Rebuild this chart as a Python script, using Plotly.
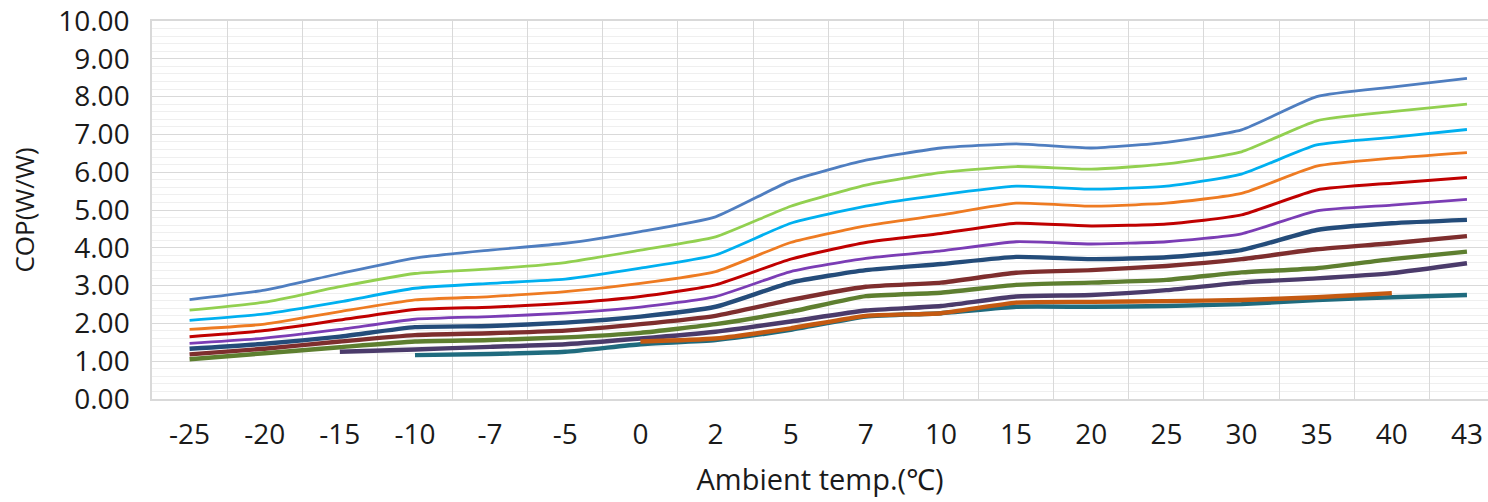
import plotly.graph_objects as go

categories = ["-25", "-20", "-15", "-10", "-7", "-5", "0", "2", "5", "7",
              "10", "15", "20", "25", "30", "35", "40", "43"]

s1 = [2.63, 2.88, 3.32, 3.73, 3.94, 4.12, 4.43, 4.82, 5.77, 6.32, 6.64, 6.75, 6.64, 6.79, 7.12, 8.00, 8.25, 8.48]
s2 = [2.35, 2.56, 2.97, 3.32, 3.44, 3.61, 3.94, 4.29, 5.10, 5.66, 5.99, 6.15, 6.08, 6.22, 6.54, 7.36, 7.60, 7.80]
s3 = [2.08, 2.25, 2.57, 2.93, 3.06, 3.17, 3.46, 3.81, 4.65, 5.10, 5.40, 5.63, 5.55, 5.63, 5.95, 6.72, 6.92, 7.13]
s4 = [1.84, 1.98, 2.31, 2.62, 2.71, 2.84, 3.06, 3.37, 4.14, 4.58, 4.87, 5.18, 5.10, 5.18, 5.44, 6.16, 6.37, 6.52]
s5 = [1.65, 1.81, 2.09, 2.37, 2.43, 2.53, 2.71, 3.02, 3.70, 4.14, 4.38, 4.65, 4.58, 4.63, 4.87, 5.53, 5.71, 5.86]
s6 = [1.47, 1.61, 1.84, 2.11, 2.18, 2.27, 2.43, 2.71, 3.37, 3.72, 3.92, 4.16, 4.10, 4.16, 4.37, 4.98, 5.13, 5.28]
s7 = [1.33, 1.46, 1.65, 1.90, 1.93, 2.02, 2.18, 2.44, 3.08, 3.41, 3.57, 3.76, 3.70, 3.75, 3.94, 4.47, 4.65, 4.74]
s8 = [1.18, 1.33, 1.52, 1.69, 1.74, 1.81, 1.98, 2.20, 2.62, 2.97, 3.08, 3.34, 3.41, 3.52, 3.70, 3.96, 4.12, 4.31]
s9 = [1.05, 1.21, 1.37, 1.52, 1.56, 1.63, 1.75, 1.98, 2.31, 2.72, 2.81, 3.02, 3.08, 3.15, 3.35, 3.46, 3.70, 3.90]
s10 = [None, None, 1.25, 1.31, 1.38, 1.45, 1.60, 1.78, 2.05, 2.34, 2.46, 2.71, 2.75, 2.88, 3.08, 3.19, 3.33, 3.59]
s11 = [None, None, None, 1.16, 1.19, 1.25, 1.45, 1.56, 1.83, 2.18, 2.27, 2.44, 2.44, 2.46, 2.51, 2.62, 2.69, 2.75]
s12 = [None, None, None, None, None, None, 1.52, 1.60, 1.87, 2.20, 2.27, 2.55, 2.57, 2.59, 2.62, 2.69, 2.80, None]

series = [s1, s2, s3, s4, s5, s6, s7, s8, s9, s10, s11, s12]
colors = ["#4F7EC0", "#92D050", "#00B0F0", "#EE7B22", "#C00000", "#7B3DB5",
          "#244C7A", "#7E2E2E", "#5E7F30", "#4B3B6B", "#1F6B7E", "#C55A11"]
widths = [2.8, 2.8, 2.8, 2.8, 3.0, 2.8, 4.4, 4.4, 4.4, 4.4, 4.4, 4.4]

fig = go.Figure()
for vals, c, w in zip(series, colors, widths):
    fig.add_trace(go.Scatter(
        x=categories, y=vals, mode="lines",
        line=dict(color=c, width=w, shape="spline", smoothing=0.5),
        connectgaps=False, showlegend=False, hoverinfo="skip"))

font_family = "Open Sans, Noto Sans, sans-serif"
fig.update_layout(
    width=1488, height=502,
    margin=dict(l=152, r=0, t=21, b=103),
    paper_bgcolor="white", plot_bgcolor="white",
    font=dict(family=font_family, size=28, color="#1a1a1a"),
    xaxis=dict(
        type="category", range=[-0.5, 17.28],
        tickson="boundaries", showgrid=True, gridcolor="#d9d9d9", gridwidth=1,
        showline=True, linecolor="#d9d9d9", linewidth=1.5, mirror=True,
        ticks="", ticklabelstandoff=10,
        tickfont=dict(size=28, family=font_family, color="#1a1a1a"),
        title=dict(text="Ambient temp.(℃)", standoff=18,
                   font=dict(size=29, family=font_family, color="#1a1a1a")),
        automargin=False, zeroline=False),
    yaxis=dict(
        range=[0, 10], dtick=1, tickformat=".2f",
        showgrid=True, gridcolor="#d9d9d9", gridwidth=1.3,
        minor=dict(dtick=0.2, showgrid=True, gridcolor="#efefef", gridwidth=1),
        showline=True, linecolor="#d9d9d9", linewidth=1.5, mirror=True,
        ticks="", ticklabelstandoff=15,
        tickfont=dict(size=28, family=font_family, color="#1a1a1a"),
        title=dict(text="COP(W/W)", standoff=16,
                   font=dict(size=26, family=font_family, color="#1a1a1a")),
        automargin=False, zeroline=False),
)

fig.write_html("out.html")
